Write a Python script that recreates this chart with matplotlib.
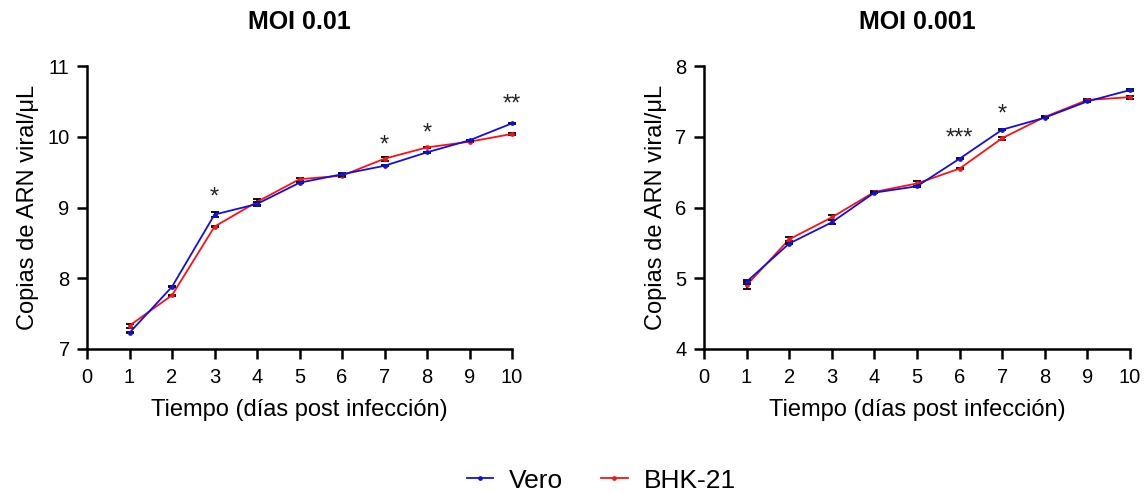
import matplotlib
matplotlib.use("Agg")
import matplotlib.pyplot as plt
from matplotlib.lines import Line2D

plt.rcParams['font.family'] = ['Liberation Sans', 'DejaVu Sans']

days = [1, 2, 3, 4, 5, 6, 7, 8, 9, 10]

# MOI 0.01
vero_01 = [7.23, 7.88, 8.90, 9.05, 9.35, 9.47, 9.59, 9.78, 9.95, 10.19]
vero_01_err = [0.01, 0.01, 0.03, 0.03, 0.01, 0.02, 0.01, 0.01, 0.01, 0.01]
bhk_01 = [7.33, 7.76, 8.73, 9.08, 9.40, 9.45, 9.69, 9.85, 9.93, 10.04]
bhk_01_err = [0.03, 0.01, 0.01, 0.04, 0.02, 0.02, 0.03, 0.01, 0.01, 0.01]

# MOI 0.001
vero_001 = [4.95, 5.49, 5.79, 6.21, 6.30, 6.69, 7.10, 7.27, 7.50, 7.66]
vero_001_err = [0.03, 0.01, 0.03, 0.01, 0.01, 0.01, 0.01, 0.01, 0.01, 0.02]
bhk_001 = [4.90, 5.55, 5.86, 6.22, 6.34, 6.55, 6.98, 7.28, 7.52, 7.56]
bhk_001_err = [0.05, 0.03, 0.03, 0.01, 0.03, 0.01, 0.02, 0.01, 0.01, 0.02]

# significance marks: (day, y position, text)
sig_01 = [(3, 9.14, "*"), (7, 9.88, "*"), (8, 10.04, "*"), (10, 10.45, "**")]
sig_001 = [(6, 6.97, "***"), (7, 7.31, "*")]

titles = ["MOI 0.01", "MOI 0.001"]
ylims = [(7, 11), (4, 8)]
yticks = [[7, 8, 9, 10, 11], [4, 5, 6, 7, 8]]
xticks = list(range(0, 11))

fig = plt.figure(figsize=(11.45, 4.93), dpi=100)
ax1 = fig.add_axes([0.0760, 0.2921, 0.3712, 0.574])
ax2 = fig.add_axes([0.6148, 0.2921, 0.3721, 0.574])

datasets = [
    (ax1, vero_01, vero_01_err, bhk_01, bhk_01_err, sig_01),
    (ax2, vero_001, vero_001_err, bhk_001, bhk_001_err, sig_001),
]

blue = "#1010e0"
red = "#ff1010"
for i, (ax, v, ve, b, be, sig) in enumerate(datasets):
    ax.errorbar(days, b, yerr=be, color=red, ecolor="black", elinewidth=1.3,
                capsize=3.2, capthick=1.3, lw=1.3, marker="o", ms=2.4, zorder=3,
                label="BHK-21")
    ax.errorbar(days, v, yerr=ve, color=blue, ecolor="black", elinewidth=1.3,
                capsize=3.2, capthick=1.3, lw=1.3, marker="o", ms=2.4, zorder=4,
                label="Vero")
    for d, y, t in sig:
        ax.text(d, y, t, ha="center", va="center", fontsize=17, color="#222222")
    ax.set_xlim(0, 10)
    ax.set_ylim(*ylims[i])
    ax.set_xticks(xticks)
    ax.set_yticks(yticks[i])
    ax.spines['top'].set_visible(False)
    ax.spines['right'].set_visible(False)
    ax.spines['left'].set_linewidth(1.8)
    ax.spines['bottom'].set_linewidth(1.8)
    ax.tick_params(axis='both', direction='out', length=7.5, width=1.8,
                   labelsize=14.5, pad=5)
    ax.tick_params(axis='x', pad=6)
    ax.set_xlabel("Tiempo (días post infección)", fontsize=17, labelpad=9)
    ax.set_ylabel("Copias de ARN viral/μL", fontsize=17, labelpad=6)
    ax.set_title(titles[i], fontsize=18, fontweight="bold", pad=27)
    for art in ax.get_children():
        try:
            art.set_clip_on(False)
        except Exception:
            pass

leg_handles = [Line2D([], [], color=blue, lw=1.3, marker="o", ms=2.4),
               Line2D([], [], color=red, lw=1.3, marker="o", ms=2.4)]
fig.legend(leg_handles, ["Vero", "BHK-21"], loc="center", bbox_to_anchor=(0.525, 0.025),
           ncol=2, frameon=False, fontsize=19, handlelength=1.0, columnspacing=1.45,
           handletextpad=0.6)

fig.savefig("out.png", dpi=100)
